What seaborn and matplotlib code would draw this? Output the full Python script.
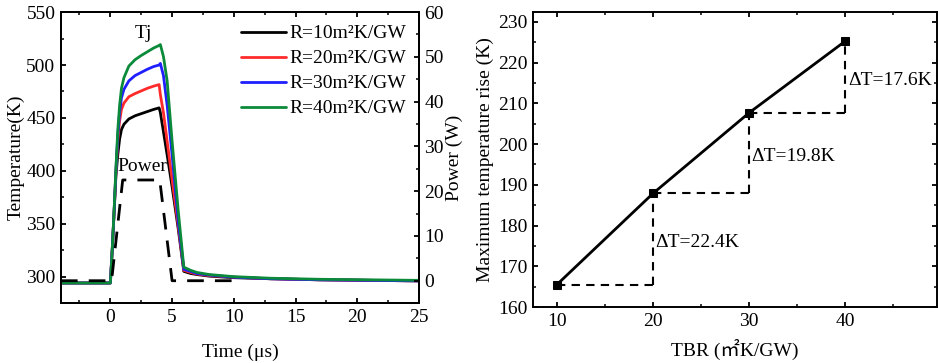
import numpy as np
import pandas as pd
import matplotlib
matplotlib.use("Agg")
import matplotlib.pyplot as plt
from matplotlib.ticker import MultipleLocator
import seaborn as sns

# left panel: junction temperature vs time
time_us = [-4, 0, 0.15, 0.3, 0.45, 0.6, 0.75, 0.9, 1.1, 1.5, 2, 2.5, 3, 3.5, 3.95,
           4.05, 4.3, 4.6, 5, 5.5, 5.95, 6.5, 7, 8, 10, 13, 17, 21, 25]
tj_10 = [294, 294, 325, 360, 395, 415, 430, 439, 444, 449, 452, 454, 456, 458, 459.5,
         455, 437, 415, 385, 345, 305, 303, 302, 300.5, 299, 298, 297, 296.5, 296]
tj_20 = [294, 294, 325, 360, 398, 428, 447, 458, 464, 470, 473, 475.5, 478, 480, 481.5,
         472, 455, 428, 392, 348, 306, 304, 302.5, 301, 299.5, 298, 297, 296.5, 296]
tj_30 = [294, 294, 325, 360, 400, 433, 455, 469, 477, 485, 490, 493, 496, 498.5, 500,
         501.5, 490, 462, 415, 352, 307, 305, 303, 301.5, 299.5, 298, 297, 296.5, 296]
tj_40 = [294, 294, 325, 362, 402, 438, 462, 478, 488, 499, 505, 509, 512.5, 516, 518.5,
         519.3, 508, 485, 428, 362, 309, 306, 304, 302, 300, 298.5, 297.5, 297, 296.5]
tj_labels = ["R=10m²K/GW", "R=20m²K/GW", "R=30m²K/GW", "R=40m²K/GW"]
tj_colors = ["#000000", "#ff2b2b", "#1f1fff", "#0b8a3a"]

power_t = [-4, 0.1, 1.0, 4.0, 5.0, 10]
power_w = [0, 0, 22.5, 22.5, 0, 0]

# right panel: maximum temperature rise vs TBR
tbr = [10, 20, 30, 40]
max_rise = [165.5, 187.9, 207.7, 225.3]
delta_labels = ["ΔT=22.4K", "ΔT=19.8K", "ΔT=17.6K"]

sns.set_theme(style="ticks")
plt.rcParams['font.family'] = ['Liberation Serif', 'DejaVu Serif']
fs = 14
plt.rcParams.update({
    'font.size': fs, 'axes.linewidth': 1.4,
    'xtick.direction': 'in', 'ytick.direction': 'in',
    'xtick.major.size': 3.5, 'ytick.major.size': 3.5,
    'xtick.minor.size': 2, 'ytick.minor.size': 2,
    'xtick.major.width': 1.3, 'ytick.major.width': 1.3,
    'xtick.minor.width': 1.1, 'ytick.minor.width': 1.1,
    'xtick.color': 'black', 'ytick.color': 'black',
    'axes.edgecolor': 'black', 'text.color': 'black', 'axes.labelcolor': 'black',
})

fig = plt.figure(figsize=(9.38, 3.63), dpi=100)
ax = fig.add_axes([0.065, 0.165, 0.3817, 0.8017])
ax2 = ax.twinx()

for vals, lab, col in zip([tj_10, tj_20, tj_30, tj_40], tj_labels, tj_colors):
    sns.lineplot(x=time_us, y=vals, ax=ax, color=col, lw=2.0, label=lab, sort=False)

sns.lineplot(x=power_t, y=power_w, ax=ax2, color='black', lw=2.0, sort=False)
ax2.lines[0].set_dashes((6, 4))

ax.set_xlim(-4, 25)
ax.set_ylim(275, 550)
ax2.set_ylim(-5, 60)
ax.xaxis.set_major_locator(MultipleLocator(5))
ax.xaxis.set_minor_locator(MultipleLocator(2.5))
ax.yaxis.set_major_locator(MultipleLocator(50))
ax.yaxis.set_minor_locator(MultipleLocator(25))
ax2.yaxis.set_major_locator(MultipleLocator(10))
ax2.yaxis.set_minor_locator(MultipleLocator(5))
ax.tick_params(which='both', top=True, labelsize=fs, pad=4)
ax2.tick_params(which='both', labelsize=fs, pad=4)
ax.set_xlabel("Time (μs)", fontsize=fs, labelpad=13)
ax.set_ylabel("Temperature(K)", fontsize=fs, labelpad=1)
ax2.set_ylabel("Power (W)", fontsize=fs, labelpad=1)
ax.text(2.7, 530, "Tj", fontsize=fs, ha='center', va='center')
ax.text(2.57, 404, "Power", fontsize=fs, ha='center', va='center')

leg = ax.legend(loc='upper right', frameon=False, fontsize=fs, handlelength=2.3,
                handletextpad=0.2, labelspacing=0.38, borderaxespad=0.25)
for ln in leg.get_lines():
    ln.set_linewidth(2.0)
for sp in ax2.spines.values():
    sp.set_linewidth(1.4)

# right panel
bx = fig.add_axes([0.568, 0.154, 0.4307, 0.8127])
sns.lineplot(x=tbr, y=max_rise, ax=bx, color='black', lw=2.0, marker='s',
             markersize=6, markeredgecolor='black', markerfacecolor='black')
for i in range(len(tbr) - 1):
    bx.plot([tbr[i], tbr[i + 1]], [max_rise[i], max_rise[i]], color='black',
            lw=1.5, dashes=(4, 3))
    bx.plot([tbr[i + 1], tbr[i + 1]], [max_rise[i], max_rise[i + 1]], color='black',
            lw=1.5, dashes=(4, 3))
    bx.text(tbr[i + 1] + 0.25, (max_rise[i] + max_rise[i + 1]) / 2 - 0.8,
            delta_labels[i], fontsize=fs, ha='left', va='center')

bx.set_xlim(7.5, 49.5)
bx.set_ylim(160, 232.4)
bx.xaxis.set_major_locator(MultipleLocator(10))
bx.xaxis.set_minor_locator(MultipleLocator(5))
bx.yaxis.set_major_locator(MultipleLocator(10))
bx.yaxis.set_minor_locator(MultipleLocator(5))
bx.tick_params(which='both', top=True, right=True, labelsize=fs, pad=4)
bx.set_ylabel("Maximum temperature rise (K)", fontsize=fs, labelpad=3)
bx.set_xlabel("TBR (㎡K/GW)", fontsize=fs, labelpad=7,
              family=['Liberation Serif', 'Noto Sans CJK SC'])

fig.savefig("out.png", dpi=100)
